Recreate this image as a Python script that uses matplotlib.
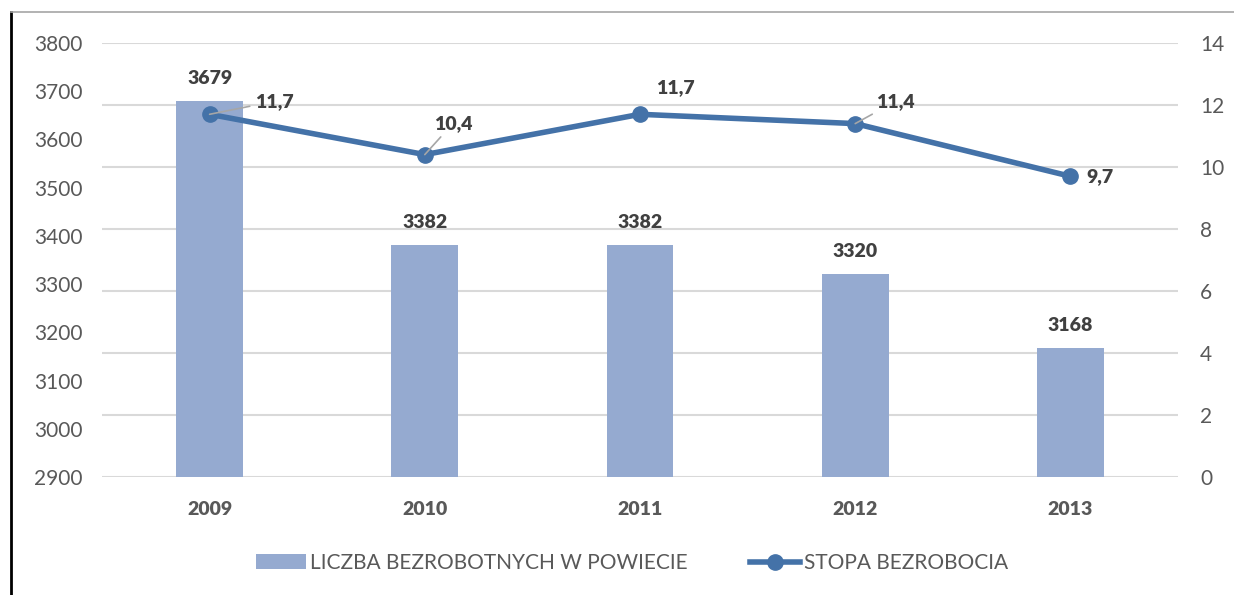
import matplotlib
matplotlib.use("Agg")
import matplotlib.pyplot as plt
from matplotlib.lines import Line2D
from matplotlib.patches import Patch

# data
years = ['2009', '2010', '2011', '2012', '2013']
unemployed = [3679, 3382, 3382, 3320, 3168]
rate = [11.7, 10.4, 11.7, 11.4, 9.7]
# label offsets for the rate labels (pixels)
rate_offsets = [(65, 13), (28, 31), (35, 27), (40, 22), (30, 0)]
leader = [True, True, False, True, False]

BAR_C = '#95aad0'
LINE_C = '#4472a8'
TXT_C = '#595959'
LBL_C = '#404040'
BOLD = 800
plt.rcParams['font.family'] = ['Lato', 'DejaVu Sans']

fig = plt.figure(figsize=(12.34, 5.95), dpi=100)
ax = fig.add_axes([102 / 1234, 1 - 477 / 595, 1076 / 1234, 434 / 595])
ax2 = ax.twinx()
ax.set_zorder(ax2.get_zorder() - 1)
ax.patch.set_visible(False)

# gridlines belong to the right axis (0..14 step 2), drawn under the bars
for g in range(0, 15, 2):
    ax.plot([0, 1], [g / 14, g / 14], transform=ax.transAxes,
            color='#d9d9d9', lw=1.5, zorder=0)

x = list(range(len(years)))
ax.bar(x, unemployed, width=0.31, color=BAR_C, zorder=2)
ax.set_ylim(2900, 3800)
ax.set_yticks(range(2900, 3801, 100))
ax.set_xlim(-0.5, len(years) - 0.5)
ax.set_xticks(x)
ax.set_xticklabels(years, fontsize=14, fontweight=BOLD, color=TXT_C)
for xi, v in zip(x, unemployed):
    ax.annotate(str(v), (xi, v), xytext=(0, 14), textcoords='offset pixels',
                ha='center', va='bottom', fontsize=14, fontweight=BOLD, color=LBL_C)

ax2.plot(x, rate, color=LINE_C, lw=4, marker='o', ms=11, zorder=3,
         solid_capstyle='round')
ax2.set_ylim(0, 14)
ax2.set_yticks(range(0, 15, 2))
for i, (xi, v) in enumerate(zip(x, rate)):
    dx, dy = rate_offsets[i]
    props = None
    if leader[i]:
        props = dict(arrowstyle='-', color='#a6a6a6', lw=1.2, shrinkA=2, shrinkB=0)
    ax2.annotate(str(v).replace('.', ','), (xi, v), xytext=(dx, dy),
                 textcoords='offset pixels', ha='center', va='center',
                 fontsize=14, fontweight=BOLD, color=LBL_C, arrowprops=props)

for a in (ax, ax2):
    for s in a.spines.values():
        s.set_visible(False)
    a.tick_params(length=0, labelsize=15, labelcolor=TXT_C)
ax.tick_params(axis='y', pad=14)
ax2.tick_params(axis='y', pad=16)
ax.tick_params(axis='x', pad=17, labelsize=14)

handles = [Patch(facecolor=BAR_C, edgecolor='none'),
           Line2D([0], [0], color=LINE_C, lw=4, marker='o', ms=11)]
fig.legend(handles, ['LICZBA BEZROBOTNYCH W POWIECIE', 'STOPA BEZROBOCIA'],
           loc='center', bbox_to_anchor=(632 / 1234, 1 - 563 / 595), ncol=2,
           frameon=False, fontsize=15, labelcolor=TXT_C, handlelength=2.4,
           handletextpad=0.2, columnspacing=3.0)

# outer frame
fig.add_artist(Line2D([11 / 1234, 11 / 1234], [0, 1 - 12 / 595], color='black', lw=2))
fig.add_artist(Line2D([11 / 1234, 1], [1 - 12 / 595, 1 - 12 / 595], color='#a6a6a6', lw=1.2))

fig.savefig('out.png', dpi=100)
